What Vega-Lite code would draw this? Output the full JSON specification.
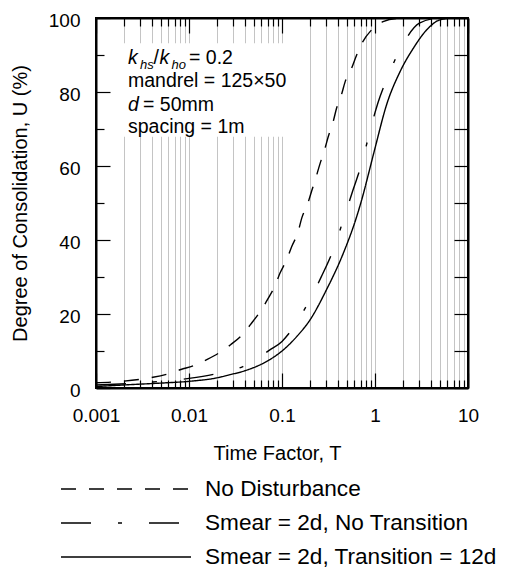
{
  "$schema": "https://vega.github.io/schema/vega-lite/v6.json",
  "width": 372,
  "height": 370,
  "autosize": {"type": "none"},
  "padding": {"left": 96, "top": 18, "right": 39, "bottom": 184},
  "background": "white",
  "config": {
    "font": "Liberation Sans",
    "view": {"stroke": "black", "strokeWidth": 2},
    "axis": {
      "domainColor": "black",
      "domainWidth": 2,
      "tickColor": "black",
      "tickWidth": 1.2,
      "labelColor": "black",
      "labelFont": "Liberation Sans",
      "labelFontSize": 19,
      "titleColor": "black",
      "titleFont": "Liberation Sans",
      "titleFontSize": 20,
      "titleFontWeight": "normal",
      "labelOverlap": false,
      "labelFlush": false
    }
  },
  "datasets": {
    "curves": [
      {"T": 0.001, "U": 1.4, "s": "No Disturbance"},
      {"T": 0.0019, "U": 1.8, "s": "No Disturbance"},
      {"T": 0.0029, "U": 2.3, "s": "No Disturbance"},
      {"T": 0.0041, "U": 2.9, "s": "No Disturbance"},
      {"T": 0.0059, "U": 3.8, "s": "No Disturbance"},
      {"T": 0.0082, "U": 5.0, "s": "No Disturbance"},
      {"T": 0.0114, "U": 6.1, "s": "No Disturbance"},
      {"T": 0.0159, "U": 7.8, "s": "No Disturbance"},
      {"T": 0.022, "U": 9.8, "s": "No Disturbance"},
      {"T": 0.028, "U": 11.7, "s": "No Disturbance"},
      {"T": 0.038, "U": 14.6, "s": "No Disturbance"},
      {"T": 0.047, "U": 17.5, "s": "No Disturbance"},
      {"T": 0.058, "U": 20.6, "s": "No Disturbance"},
      {"T": 0.071, "U": 24.2, "s": "No Disturbance"},
      {"T": 0.084, "U": 27.6, "s": "No Disturbance"},
      {"T": 0.095, "U": 31.0, "s": "No Disturbance"},
      {"T": 0.112, "U": 34.6, "s": "No Disturbance"},
      {"T": 0.127, "U": 38.2, "s": "No Disturbance"},
      {"T": 0.149, "U": 42.2, "s": "No Disturbance"},
      {"T": 0.163, "U": 45.9, "s": "No Disturbance"},
      {"T": 0.19, "U": 50.0, "s": "No Disturbance"},
      {"T": 0.21, "U": 53.5, "s": "No Disturbance"},
      {"T": 0.226, "U": 56.0, "s": "No Disturbance"},
      {"T": 0.257, "U": 60.7, "s": "No Disturbance"},
      {"T": 0.29, "U": 64.8, "s": "No Disturbance"},
      {"T": 0.314, "U": 67.9, "s": "No Disturbance"},
      {"T": 0.355, "U": 72.0, "s": "No Disturbance"},
      {"T": 0.386, "U": 75.6, "s": "No Disturbance"},
      {"T": 0.435, "U": 79.2, "s": "No Disturbance"},
      {"T": 0.478, "U": 82.8, "s": "No Disturbance"},
      {"T": 0.56, "U": 86.4, "s": "No Disturbance"},
      {"T": 0.635, "U": 90.0, "s": "No Disturbance"},
      {"T": 0.74, "U": 93.6, "s": "No Disturbance"},
      {"T": 0.92, "U": 96.8, "s": "No Disturbance"},
      {"T": 1.22, "U": 99.0, "s": "No Disturbance"},
      {"T": 1.8, "U": 99.9, "s": "No Disturbance"},
      {"T": 3.0, "U": 100, "s": "No Disturbance"},
      {"T": 10, "U": 100, "s": "No Disturbance"},
      {"T": 0.001, "U": 0.8, "s": "Smear = 2d, No Transition"},
      {"T": 0.003, "U": 1.4, "s": "Smear = 2d, No Transition"},
      {"T": 0.01, "U": 2.6, "s": "Smear = 2d, No Transition"},
      {"T": 0.02, "U": 3.9, "s": "Smear = 2d, No Transition"},
      {"T": 0.038, "U": 5.8, "s": "Smear = 2d, No Transition"},
      {"T": 0.074, "U": 10.3, "s": "Smear = 2d, No Transition"},
      {"T": 0.1, "U": 12.6, "s": "Smear = 2d, No Transition"},
      {"T": 0.127, "U": 15.7, "s": "Smear = 2d, No Transition"},
      {"T": 0.19, "U": 22.9, "s": "Smear = 2d, No Transition"},
      {"T": 0.265, "U": 30.1, "s": "Smear = 2d, No Transition"},
      {"T": 0.355, "U": 37.3, "s": "Smear = 2d, No Transition"},
      {"T": 0.456, "U": 45.4, "s": "Smear = 2d, No Transition"},
      {"T": 0.58, "U": 53.5, "s": "Smear = 2d, No Transition"},
      {"T": 0.72, "U": 60.7, "s": "Smear = 2d, No Transition"},
      {"T": 0.87, "U": 68.8, "s": "Smear = 2d, No Transition"},
      {"T": 1.07, "U": 76.9, "s": "Smear = 2d, No Transition"},
      {"T": 1.37, "U": 84.1, "s": "Smear = 2d, No Transition"},
      {"T": 1.91, "U": 92.0, "s": "Smear = 2d, No Transition"},
      {"T": 3.0, "U": 98.6, "s": "Smear = 2d, No Transition"},
      {"T": 4.6, "U": 99.9, "s": "Smear = 2d, No Transition"},
      {"T": 10, "U": 100, "s": "Smear = 2d, No Transition"},
      {"T": 0.001, "U": 0.4, "s": "Smear = 2d, Transition = 12d"},
      {"T": 0.0023, "U": 0.9, "s": "Smear = 2d, Transition = 12d"},
      {"T": 0.0052, "U": 1.35, "s": "Smear = 2d, Transition = 12d"},
      {"T": 0.01, "U": 1.8, "s": "Smear = 2d, Transition = 12d"},
      {"T": 0.0195, "U": 2.7, "s": "Smear = 2d, Transition = 12d"},
      {"T": 0.0276, "U": 3.6, "s": "Smear = 2d, Transition = 12d"},
      {"T": 0.038, "U": 4.5, "s": "Smear = 2d, Transition = 12d"},
      {"T": 0.073, "U": 7.6, "s": "Smear = 2d, Transition = 12d"},
      {"T": 0.1, "U": 10.0, "s": "Smear = 2d, Transition = 12d"},
      {"T": 0.144, "U": 13.9, "s": "Smear = 2d, Transition = 12d"},
      {"T": 0.2, "U": 18.4, "s": "Smear = 2d, Transition = 12d"},
      {"T": 0.3, "U": 26.5, "s": "Smear = 2d, Transition = 12d"},
      {"T": 0.456, "U": 36.4, "s": "Smear = 2d, Transition = 12d"},
      {"T": 0.635, "U": 46.3, "s": "Smear = 2d, Transition = 12d"},
      {"T": 0.75, "U": 52.5, "s": "Smear = 2d, Transition = 12d"},
      {"T": 0.815, "U": 56.0, "s": "Smear = 2d, Transition = 12d"},
      {"T": 1.0, "U": 64.8, "s": "Smear = 2d, Transition = 12d"},
      {"T": 1.33, "U": 76.5, "s": "Smear = 2d, Transition = 12d"},
      {"T": 1.86, "U": 85.5, "s": "Smear = 2d, Transition = 12d"},
      {"T": 2.58, "U": 91.8, "s": "Smear = 2d, Transition = 12d"},
      {"T": 3.6, "U": 96.8, "s": "Smear = 2d, Transition = 12d"},
      {"T": 5.0, "U": 99.5, "s": "Smear = 2d, Transition = 12d"},
      {"T": 7.0, "U": 100, "s": "Smear = 2d, Transition = 12d"},
      {"T": 10, "U": 100, "s": "Smear = 2d, Transition = 12d"}
    ],
    "box": [{"x1": 0.0015, "x2": 0.12, "y1": 67.9, "y2": 93.2}],
    "ital": [
      {"T": 0.002208, "U": 87.57, "txt": "k"},
      {"T": 0.004817, "U": 87.57, "txt": "k"},
      {"T": 0.002208, "U": 75.0, "txt": "d"}
    ],
    "subs": [
      {"T": 0.002972, "U": 86.35, "txt": "hs"},
      {"T": 0.006483, "U": 86.35, "txt": "ho"}
    ],
    "plain": [
      {"T": 0.004152, "U": 87.57, "txt": "/"},
      {"T": 0.01, "U": 87.57, "txt": "= 0.2"},
      {"T": 0.002208, "U": 81.22, "txt": "mandrel = 125×50"},
      {"T": 0.003201, "U": 75.0, "txt": "= 50mm"},
      {"T": 0.002208, "U": 68.92, "txt": "spacing = 1m"}
    ]
  },
  "layer": [
    {
      "data": {"name": "box"},
      "mark": {"type": "rect", "fill": "white", "stroke": null},
      "encoding": {
        "x": {
          "field": "x1", "type": "quantitative",
          "scale": {"type": "log", "domain": [0.001, 10], "nice": false},
          "axis": {
            "orient": "top", "title": null, "labels": false, "grid": false,
            "values": [0.001, 0.002, 0.003, 0.004, 0.005, 0.006, 0.007, 0.008, 0.009, 0.01, 0.02, 0.03, 0.04, 0.05, 0.06, 0.07, 0.08, 0.09, 0.1, 0.2, 0.3, 0.4, 0.5, 0.6, 0.7, 0.8, 0.9, 1, 2, 3, 4, 5, 6, 7, 8, 9, 10],
            "tickSize": {"condition": {"test": "indexof([0.001, 0.01, 0.1, 1, 10], datum.value) >= 0", "value": -15}, "value": -8}
          }
        },
        "x2": {"field": "x2"},
        "y": {
          "field": "y1", "type": "quantitative",
          "scale": {"domain": [0, 100], "nice": false, "zero": false},
          "axis": {
            "orient": "right", "title": null, "labels": false, "grid": false,
            "values": [0, 10, 20, 30, 40, 50, 60, 70, 80, 90, 100],
            "tickSize": -14
          }
        },
        "y2": {"field": "y2"}
      }
    },
    {
      "data": {"name": "curves"},
      "mark": {"type": "line", "color": "black", "strokeWidth": 1.4, "interpolate": "monotone"},
      "encoding": {
        "x": {
          "field": "T", "type": "quantitative",
          "scale": {"type": "log", "domain": [0.001, 10], "nice": false},
          "axis": {
            "orient": "bottom",
            "title": "Time Factor, T",
            "values": [0.001, 0.002, 0.003, 0.004, 0.005, 0.006, 0.007, 0.008, 0.009, 0.01, 0.02, 0.03, 0.04, 0.05, 0.06, 0.07, 0.08, 0.09, 0.1, 0.2, 0.3, 0.4, 0.5, 0.6, 0.7, 0.8, 0.9, 1, 2, 3, 4, 5, 6, 7, 8, 9, 10],
            "labelExpr": "indexof([0.001, 0.01, 0.1, 1, 10], datum.value) >= 0 ? format(datum.value, '~g') : ''",
            "grid": true, "gridColor": "#c4c4c4", "gridWidth": 1,
            "tickSize": {"condition": {"test": "indexof([0.001, 0.01, 0.1, 1, 10], datum.value) >= 0", "value": -15}, "value": -8},
            "labelPadding": 33.7,
            "titleBaseline": "alphabetic",
            "titleY": 71,
            "titleX": 181
          }
        },
        "y": {
          "field": "U", "type": "quantitative",
          "scale": {"domain": [0, 100], "nice": false, "zero": false},
          "axis": {
            "orient": "left",
            "title": "Degree of Consolidation, U (%)",
            "values": [0, 10, 20, 30, 40, 50, 60, 70, 80, 90, 100],
            "labelExpr": "datum.value % 20 == 0 ? datum.label : ''",
            "grid": false,
            "tickSize": {"condition": {"test": "datum.value % 20 == 0", "value": -14}, "value": -8},
            "labelPadding": 30,
            "labelOffset": 2,
            "titleBaseline": "alphabetic",
            "titleX": -69.5
          }
        },
        "strokeDash": {
          "field": "s", "type": "nominal",
          "scale": {
            "domain": ["No Disturbance", "Smear = 2d, No Transition", "Smear = 2d, Transition = 12d"],
            "range": [[15, 13], [30, 27, 4, 27], [1, 0]]
          },
          "legend": {
            "title": null,
            "orient": "none",
            "legendX": -36,
            "legendY": 454,
            "direction": "vertical",
            "padding": 0,
            "symbolType": "stroke",
            "symbolSize": 16900,
            "symbolStrokeWidth": 1.3,
            "symbolStrokeColor": "black",
            "labelFont": "Liberation Sans",
            "labelFontSize": 22.6,
            "labelColor": "black",
            "labelLimit": 400,
            "labelOffset": 13,
            "clipHeight": 34,
            "rowPadding": 0
          }
        }
      }
    },
    {
      "data": {"name": "ital"},
      "mark": {"type": "text", "align": "left", "baseline": "alphabetic", "fontStyle": "italic", "fontSize": 19.5, "font": "Liberation Sans", "color": "black"},
      "encoding": {
        "x": {"field": "T", "type": "quantitative", "axis": null, "scale": {"type": "log", "domain": [0.001, 10], "nice": false}},
        "y": {"field": "U", "type": "quantitative", "axis": null, "scale": {"domain": [0, 100], "nice": false, "zero": false}},
        "text": {"field": "txt"}
      }
    },
    {
      "data": {"name": "subs"},
      "mark": {"type": "text", "align": "left", "baseline": "alphabetic", "fontStyle": "italic", "fontSize": 13, "font": "Liberation Sans", "color": "black"},
      "encoding": {
        "x": {"field": "T", "type": "quantitative", "axis": null, "scale": {"type": "log", "domain": [0.001, 10], "nice": false}},
        "y": {"field": "U", "type": "quantitative", "axis": null, "scale": {"domain": [0, 100], "nice": false, "zero": false}},
        "text": {"field": "txt"}
      }
    },
    {
      "data": {"name": "plain"},
      "mark": {"type": "text", "align": "left", "baseline": "alphabetic", "fontSize": 19.5, "font": "Liberation Sans", "color": "black"},
      "encoding": {
        "x": {"field": "T", "type": "quantitative", "axis": null, "scale": {"type": "log", "domain": [0.001, 10], "nice": false}},
        "y": {"field": "U", "type": "quantitative", "axis": null, "scale": {"domain": [0, 100], "nice": false, "zero": false}},
        "text": {"field": "txt"}
      }
    }
  ],
  "resolve": {"axis": {"x": "independent", "y": "independent"}}
}
